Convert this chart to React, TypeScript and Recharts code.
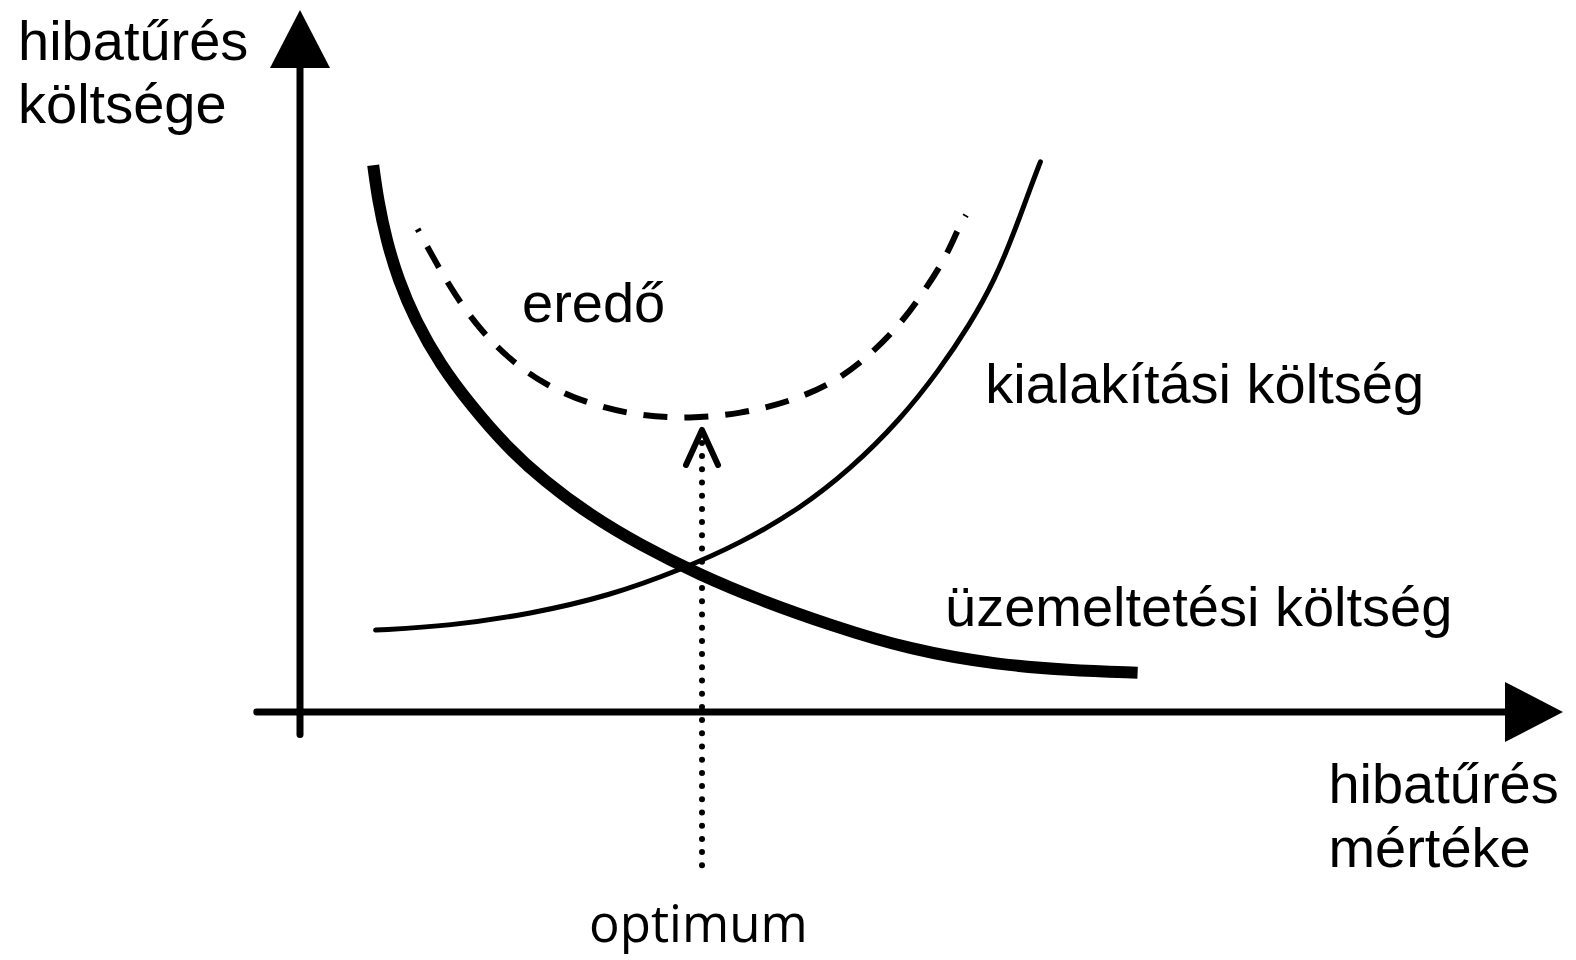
import { LineChart, Line, XAxis, YAxis, ReferenceLine, ReferenceDot } from 'recharts';

// hibatűrés mértéke (x) vs. költség (y), arbitrary units
const uzemeltetesi = [
  { x: 6.1, y: 78.1 },
  { x: 6.5, y: 73.1 },
  { x: 7.2, y: 67.4 },
  { x: 8.2, y: 61.7 },
  { x: 9.6, y: 56.0 },
  { x: 11.7, y: 49.6 },
  { x: 14.2, y: 43.9 },
  { x: 17.1, y: 38.1 },
  { x: 20.4, y: 32.9 },
  { x: 24.2, y: 28.1 },
  { x: 28.3, y: 23.9 },
  { x: 33.3, y: 19.6 },
  { x: 38.3, y: 16.0 },
  { x: 44.2, y: 12.4 },
  { x: 50.8, y: 8.9 },
  { x: 58.3, y: 6.7 },
  { x: 64.0, y: 6.0 },
  { x: 69.8, y: 5.6 },
];

const kialakitasi = [
  { x: 6.3, y: 11.7 },
  { x: 12.5, y: 12.3 },
  { x: 19.2, y: 14.0 },
  { x: 25.8, y: 16.6 },
  { x: 31.7, y: 20.3 },
  { x: 36.7, y: 24.1 },
  { x: 41.7, y: 29.1 },
  { x: 45.8, y: 34.6 },
  { x: 50.0, y: 41.7 },
  { x: 53.3, y: 48.9 },
  { x: 55.8, y: 55.3 },
  { x: 57.9, y: 61.7 },
  { x: 59.6, y: 68.9 },
  { x: 60.8, y: 74.6 },
  { x: 61.7, y: 78.6 },
];

const eredo = [
  { x: 9.8, y: 69.0 },
  { x: 11.3, y: 64.3 },
  { x: 12.9, y: 59.6 },
  { x: 15.0, y: 54.6 },
  { x: 17.5, y: 50.3 },
  { x: 20.4, y: 46.7 },
  { x: 24.2, y: 43.9 },
  { x: 28.3, y: 42.3 },
  { x: 32.5, y: 41.9 },
  { x: 36.7, y: 42.6 },
  { x: 40.8, y: 44.3 },
  { x: 44.6, y: 47.1 },
  { x: 47.5, y: 51.0 },
  { x: 50.0, y: 55.3 },
  { x: 52.1, y: 60.3 },
  { x: 53.8, y: 64.9 },
  { x: 54.8, y: 68.9 },
  { x: 55.5, y: 71.0 },
];

const optimumX = 33.5;

const labels = [
  { text: 'hibatűrés', x: -23.5, y: 93.1 },
  { text: 'költsége', x: -23.5, y: 84.1 },
  { text: 'eredő', x: 18.5, y: 55.7 },
  { text: 'kialakítási költség', x: 57.1, y: 44.1 },
  { text: 'üzemeltetési költség', x: 53.75, y: 12.3 },
  { text: 'hibatűrés', x: 85.7, y: -13.0 },
  { text: 'mértéke', x: 85.7, y: -22.1 },
];

const FONT = '"Liberation Sans", Arial, sans-serif';

function TextMark(props: any) {
  const { cx, cy, text, anchor, font, size } = props;
  return (
    <text x={cx} y={cy} textAnchor={anchor} fontFamily={font} fontSize={size} fill="#000">
      {text}
    </text>
  );
}

function UpArrow(props: any) {
  const { cx, cy } = props;
  return <polygon points={`${cx},${cy} ${cx - 30},${cy + 58} ${cx + 30},${cy + 58}`} fill="#000" />;
}

function RightArrow(props: any) {
  const { cx, cy } = props;
  return <polygon points={`${cx},${cy} ${cx - 58},${cy - 30} ${cx - 58},${cy + 30}`} fill="#000" />;
}

function Chevron(props: any) {
  const { cx, cy } = props;
  return (
    <polyline
      points={`${cx - 16},${cy + 35} ${cx},${cy} ${cx + 16},${cy + 35}`}
      fill="none"
      stroke="#000"
      strokeWidth={6}
      strokeLinecap="round"
      strokeLinejoin="round"
    />
  );
}

export default function App() {
  return (
    <div style={{ position: 'absolute', left: 0, top: 0, background: '#fff' }}>
      <LineChart width={1576} height={960} margin={{ top: 0, right: 0, bottom: 0, left: 0 }}>
        <XAxis type="number" dataKey="x" domain={[-25, 106.333]} allowDataOverflow hide height={0} />
        <YAxis type="number" dataKey="y" domain={[-35.429, 101.714]} allowDataOverflow hide width={0} />

        {/* axes */}
        <ReferenceLine
          segment={[{ x: -3.6, y: 0 }, { x: 100.4, y: 0 }]}
          stroke="#000"
          strokeWidth={7}
          strokeLinecap="round"
        />
        <ReferenceLine
          segment={[{ x: 0, y: -3.2 }, { x: 0, y: 92 }]}
          stroke="#000"
          strokeWidth={7}
          strokeLinecap="round"
        />
        <ReferenceDot x={0} y={100.3} r={0} shape={UpArrow} />
        <ReferenceDot x={105.25} y={0} r={0} shape={RightArrow} />

        {/* optimum */}
        <ReferenceLine
          segment={[{ x: optimumX, y: -21.9 }, { x: optimumX, y: 38.6 }]}
          stroke="#000"
          strokeWidth={6}
          strokeDasharray="0 13.2"
          strokeLinecap="round"
        />
        <ReferenceDot x={optimumX} y={40.3} r={0} shape={Chevron} />

        <Line
          data={kialakitasi}
          dataKey="y"
          type="basis"
          stroke="#000"
          strokeWidth={5}
          strokeLinecap="round"
          dot={false}
          activeDot={false}
          isAnimationActive={false}
        />
        <Line
          data={uzemeltetesi}
          dataKey="y"
          type="basis"
          stroke="#000"
          strokeWidth={12}
          strokeLinecap="butt"
          dot={false}
          activeDot={false}
          isAnimationActive={false}
        />
        <Line
          data={eredo}
          dataKey="y"
          type="basis"
          stroke="#000"
          strokeWidth={6}
          strokeDasharray="24 17"
          strokeDashoffset={21}
          dot={false}
          activeDot={false}
          isAnimationActive={false}
        />

        {labels.map((l, i) => (
          <ReferenceDot
            key={i}
            x={l.x}
            y={l.y}
            r={0}
            shape={(p: any) => <TextMark {...p} text={l.text} anchor="start" font={FONT} size={56} />}
          />
        ))}
        <ReferenceDot
          x={optimumX - 0.3}
          y={-32.9}
          r={0}
          shape={(p: any) => <TextMark {...p} text="optimum" anchor="middle" font='"Open Sans", "Noto Sans", sans-serif' size={51} />}
        />
      </LineChart>
    </div>
  );
}
